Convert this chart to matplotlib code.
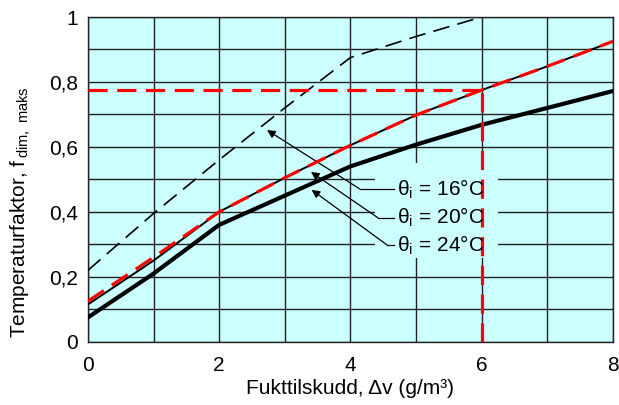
import matplotlib
matplotlib.use('Agg')
import matplotlib.pyplot as plt
from matplotlib.patches import Rectangle

plt.rcParams['font.family'] = ['Liberation Sans', 'DejaVu Sans']
plt.rcParams['mathtext.fontset'] = 'custom'
plt.rcParams['mathtext.rm'] = 'Liberation Sans'

# --- data ---
dv = [0, 1, 2, 3, 4, 5, 6, 7, 8]
f_16 = [0.22, 0.395, 0.56, 0.72, 0.875, 0.94, 1.0]          # thin dashed, theta_i = 16 C (ends at dv=6)
f_20 = [0.115, 0.25, 0.40, 0.505, 0.605, 0.698, 0.775, 0.848, 0.925]  # thin solid, theta_i = 20 C
f_20_red = [0.125, 0.26, 0.40, 0.505, 0.605, 0.698, 0.775, 0.848, 0.925]
f_24 = [0.075, 0.21, 0.36, 0.45, 0.54, 0.607, 0.668, 0.72, 0.772]     # thick solid, theta_i = 24 C

read_dv = 6
read_f = 0.775

labels = ['16', '20', '24']
label_y = [0.471, 0.385, 0.298]
arrow_heads = [(2.73, 0.652), (3.40, 0.523), (3.41, 0.468)]
elbows = [(4.14, 0.471), (4.42, 0.382), (4.56, 0.298)]

xticks = [0, 2, 4, 6, 8]
yticks = [0, 0.2, 0.4, 0.6, 0.8, 1.0]
ytick_labels = ['0', '0,2', '0,4', '0,6', '0,8', '1']

bg = '#ccffff'

fig = plt.figure(figsize=(6.19, 4.05), dpi=100)
ax = fig.add_axes([0.142, 0.156, 0.848, 0.802])
ax.set_facecolor(bg)
ax.set_xlim(0, 8)
ax.set_ylim(0, 1)

# grid, every 1 in x and 0.1 in y
ax.set_axisbelow(True)
ax.set_xticks(range(0, 9), minor=True)
ax.set_yticks([i / 10 for i in range(11)], minor=True)
ax.set_xticks(xticks)
ax.set_yticks(yticks)
ax.set_yticklabels(ytick_labels)
ax.grid(True, which='both', color='#222222', lw=1.0)
ax.tick_params(which='both', length=0, labelsize=15)
ax.tick_params(axis='x', pad=10)
ax.tick_params(axis='y', pad=7)
for s in ax.spines.values():
    s.set_color('#222222')
    s.set_linewidth(1.0)

# blank patch behind the labels
ax.add_patch(Rectangle((4.37, 0.257), 1.88, 0.293, facecolor=bg, edgecolor='none', zorder=1))

# curves
ax.plot(dv[:len(f_16)], f_16, color='black', lw=1.2, dashes=(10, 5), zorder=3)
ax.plot(dv, f_20, color='black', lw=1.4, zorder=3)
ax.plot(dv, f_24, color='black', lw=3.0, zorder=3)
ax.plot(dv, f_20_red, color='red', lw=2.3, dashes=(6, 3), zorder=4)

# read-off lines
ax.plot([0, read_dv], [read_f, read_f], color='red', lw=2.3, dashes=(6, 3), zorder=4)
ax.plot([read_dv, read_dv], [0, read_f], color='red', lw=2.3, dashes=(6, 3), zorder=4)

# labels with leaders
for lab, ly, head, elb in zip(labels, label_y, arrow_heads, elbows):
    ax.text(4.71, ly, 'θ$_{\\mathregular{i}}$ = ' + lab + '°C', fontsize=15,
            va='center', ha='left', zorder=5)
    ax.plot([elb[0], 4.66], [elb[1], elb[1]], color='black', lw=0.9, zorder=3)
    ax.annotate('', xy=head, xytext=elb,
                arrowprops=dict(arrowstyle='-|>', color='black', lw=0.9,
                                mutation_scale=12, shrinkA=0, shrinkB=0),
                zorder=3)

ax.set_xlabel('Fukttilskudd, Δv (g/m³)', fontsize=15, labelpad=3)
ax.set_ylabel(r'Temperaturfaktor, f$_{\mathregular{\,dim,\ maks}}$', fontsize=15)
ax.yaxis.set_label_coords(-0.105, 0.40)

fig.savefig('out.png', dpi=100)
